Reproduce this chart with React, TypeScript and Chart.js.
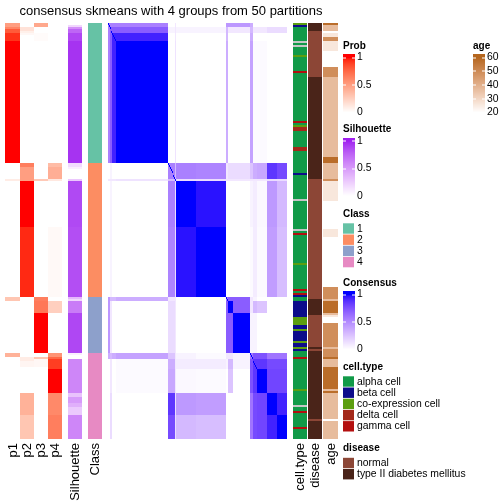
import React, { useEffect, useRef } from "react";
import { Chart, registerables } from "chart.js";

Chart.register(...registerables);

const TITLE = "consensus skmeans with 4 groups from 50 partitions";

// ---- sample groups, in row / column order of the consensus matrix ----
const groupSizes = [2, 3, 4, 61, 8, 1, 23, 35, 2, 6, 20, 3, 5, 12, 11, 12];
// consensus between groups (diagonal cells of the sample matrix are 1)
const consensusByGroup: number[][] = [
  [0.55, 0.55, 0.55, 0.55, 0, 0.1, 0, 0, 0.45, 0.45, 0.45, 0.35, 0, 0, 0, 0],
  [0.55, 0.7, 0.7, 0.7, 0.05, 0.1, 0.05, 0.05, 0.3, 0.1, 0.1, 0.3, 0.1, 0.1, 0.15, 0.15],
  [0.55, 0.7, 0.93, 0.93, 0, 0.1, 0, 0, 0.3, 0, 0, 0.35, 0, 0, 0, 0],
  [0.55, 0.7, 0.93, 1, 0, 0.12, 0, 0, 0.35, 0, 0, 0.4, 0.02, 0.02, 0, 0],
  [0, 0.05, 0, 0, 0.55, 0.3, 0.55, 0.53, 0.1, 0.15, 0.15, 0.25, 0.35, 0.38, 0.86, 0.78],
  [0.1, 0.1, 0.1, 0.12, 0.3, 1, 0.15, 0.15, 0.1, 0.1, 0.1, 0.1, 0.1, 0.1, 0.15, 0.15],
  [0, 0.05, 0, 0, 0.55, 0.15, 1, 0.97, 0, 0, 0, 0.05, 0.08, 0.03, 0.44, 0.3],
  [0, 0.05, 0, 0, 0.53, 0.15, 0.97, 1, 0, 0, 0, 0.02, 0.08, 0.02, 0.42, 0.28],
  [0.45, 0.3, 0.3, 0.35, 0.1, 0.1, 0, 0, 0.6, 0.7, 0.7, 0.1, 0.05, 0, 0, 0],
  [0.45, 0.1, 0, 0, 0.15, 0.1, 0, 0, 0.7, 1, 0.7, 0.1, 0.3, 0.25, 0, 0],
  [0.45, 0.1, 0, 0, 0.15, 0.1, 0, 0, 0.7, 0.7, 1, 0.05, 0.05, 0, 0, 0],
  [0.35, 0.3, 0.35, 0.4, 0.25, 0.1, 0.05, 0.02, 0.1, 0.1, 0.05, 0.6, 0.75, 0.75, 0.6, 0.6],
  [0, 0.1, 0, 0.02, 0.35, 0.1, 0.08, 0.08, 0.05, 0.3, 0.05, 0.75, 0.86, 0.86, 0.78, 0.78],
  [0, 0.1, 0, 0.02, 0.38, 0.1, 0.03, 0.02, 0, 0.25, 0, 0.75, 0.86, 1, 0.8, 0.8],
  [0, 0.15, 0, 0, 0.86, 0.15, 0.44, 0.42, 0, 0, 0, 0.6, 0.78, 0.8, 1, 0.93],
  [0, 0.15, 0, 0, 0.78, 0.15, 0.3, 0.28, 0, 0, 0, 0.6, 0.78, 0.8, 0.93, 1],
];

// ---- per-sample annotations as [value, run length] ----
const classRuns: [number, number][] = [[1, 70], [2, 67], [3, 28], [4, 43]];
const p1Runs: [number, number][] = [[0.5, 2], [0.62, 1], [0.8, 2], [0.93, 4], [1, 61], [0, 8], [0.1, 1], [0, 58], [0.3, 2], [0, 26], [0.4, 2], [0, 41]];
const p2Runs: [number, number][] = [[0, 2], [0.15, 2], [0.08, 1], [0.04, 1], [0, 64], [0.65, 2], [0.5, 7], [1, 23], [0.95, 35], [0, 30], [0.1, 2], [0.05, 3], [0, 13], [0.4, 11], [0.3, 12]];
const p3Runs: [number, number][] = [[0.45, 2], [0, 3], [0.02, 4], [0, 69], [0.28, 1], [0, 58], [0.65, 2], [0.68, 6], [1, 20], [0, 2], [0.3, 1], [0.04, 4], [0, 36]];
const p4Runs: [number, number][] = [[0, 70], [0.35, 2], [0.42, 6], [0.12, 1], [0, 23], [0.03, 35], [0, 2], [0.25, 6], [0, 20], [0.55, 2], [0.75, 1], [0.9, 5], [1, 12], [0.6, 11], [0.65, 12]];
const silhouetteRuns: [number, number][] = [[0, 1], [0.2, 1], [0.55, 1], [0.75, 2], [0.88, 4], [0.95, 61], [0.18, 2], [0.08, 1], [0, 5], [0.28, 1], [0.87, 23], [0.85, 35], [0.35, 1], [0.2, 1], [0.65, 6], [0.88, 20], [0.08, 1], [0, 2], [0.6, 17], [0.3, 2], [0.5, 3], [0.4, 2], [0.27, 4], [0.6, 12]];
// index into CELL_TYPES, -1 = NA
const cellTypeRuns: [number, number][] = [[2, 1], [1, 1], [0, 7], [-1, 1], [0, 1], [-1, 1], [0, 4], [2, 1], [0, 7], [4, 1], [0, 24], [4, 1], [0, 1], [2, 1], [3, 2], [0, 8], [3, 2], [0, 11], [1, 1], [0, 12], [-1, 1], [0, 14], [-1, 1], [0, 1], [4, 1], [0, 14], [2, 1], [0, 12], [4, 1], [0, 1], [4, 1], [1, 1], [0, 2], [1, 8], [2, 4], [1, 2], [2, 1], [1, 5], [2, 1], [1, 2], [2, 1], [1, 1], [0, 3], [4, 1], [0, 15], [2, 1], [0, 7], [-1, 1], [0, 2], [4, 1], [0, 7], [4, 1], [0, 5]];
// index into DISEASES
const diseaseRuns: [number, number][] = [[1, 4], [0, 23], [1, 51], [0, 60], [1, 8], [0, 16], [1, 1], [0, 1], [1, 34], [0, 1], [1, 9]];
const ageRuns: [number | null, number][] = [[58, 1], [37, 3], [null, 1], [26, 2], [49, 2], [26, 5], [null, 8], [49, 5], [37, 40], [58, 3], [37, 8], [49, 1], [26, 10], [null, 14], [26, 4], [null, 25], [49, 6], [37, 1], [58, 6], [37, 1], [26, 1], [null, 3], [49, 12], [37, 1], [49, 4], [58, 1], [37, 4], [58, 11], [37, 1], [58, 1], [37, 13], [null, 1], [37, 9]];

const CLASS_LABELS = ["1", "2", "3", "4"];
const CELL_TYPES = ["alpha cell", "beta cell", "co-expression cell", "delta cell", "gamma cell"];
const DISEASES = ["normal", "type II diabetes mellitus"];
const UNIT_TICKS = [1, 0.5, 0];
const UNIT_TICK_LABELS = ["1", "0.5", "0"];
const AGE_TICKS = [60, 50, 40, 30, 20];

// ---- styles ----
const CLASS_COLORS = ["#66C2A5", "#FC8D62", "#8DA0CB", "#E78AC3"];
const CELL_COLORS = ["#119A48", "#0C0C8A", "#5C9E10", "#A3291A", "#B30F0F"];
const NA_COLOR = "#C6C6C6";
const DISEASE_COLORS = ["#8C4636", "#4A2419"];
const FONT = '"Liberation Sans", Arial, Helvetica, sans-serif';

// column spans (page pixels == x-scale units)
const SPAN = {
  p1: [5, 20], p2: [20, 34], p3: [34, 48], p4: [48, 62],
  sil: [68, 82], cls: [88, 102], mat: [108, 287],
  cellType: [293, 307], disease: [308, 322], age: [323, 338],
};

// ---- LAB colour ramps (like colorRamp2) ----
function hexToRgb(h: string) {
  const n = parseInt(h.slice(1), 16);
  return [(n >> 16) & 255, (n >> 8) & 255, n & 255];
}
function toLin(c: number) { c /= 255; return c <= 0.04045 ? c / 12.92 : Math.pow((c + 0.055) / 1.055, 2.4); }
function fromLin(c: number) {
  const v = c <= 0.0031308 ? 12.92 * c : 1.055 * Math.pow(c, 1 / 2.4) - 0.055;
  return Math.round(Math.max(0, Math.min(1, v)) * 255);
}
const XN = 0.95047, YN = 1, ZN = 1.08883;
function f(t: number) { return t > 0.008856 ? Math.cbrt(t) : 7.787 * t + 16 / 116; }
function finv(t: number) { const t3 = t * t * t; return t3 > 0.008856 ? t3 : (t - 16 / 116) / 7.787; }
function rgbToLab(rgb: number[]) {
  const [r, g, b] = rgb.map(toLin);
  const X = (0.4124 * r + 0.3576 * g + 0.1805 * b) / XN;
  const Y = (0.2126 * r + 0.7152 * g + 0.0722 * b) / YN;
  const Z = (0.0193 * r + 0.1192 * g + 0.9505 * b) / ZN;
  return [116 * f(Y) - 16, 500 * (f(X) - f(Y)), 200 * (f(Y) - f(Z))];
}
function labToHex(lab: number[]) {
  const fy = (lab[0] + 16) / 116, fx = fy + lab[1] / 500, fz = fy - lab[2] / 200;
  const X = finv(fx) * XN, Y = finv(fy) * YN, Z = finv(fz) * ZN;
  const r = 3.2406 * X - 1.5372 * Y - 0.4986 * Z;
  const g = -0.9689 * X + 1.8758 * Y + 0.0415 * Z;
  const b = 0.0557 * X - 0.204 * Y + 1.057 * Z;
  return "rgb(" + fromLin(r) + "," + fromLin(g) + "," + fromLin(b) + ")";
}
function makeRamp(lo: number, hi: number, c0: string, c1: string) {
  const a = rgbToLab(hexToRgb(c0)), b = rgbToLab(hexToRgb(c1));
  return (v: number) => {
    const t = Math.max(0, Math.min(1, (v - lo) / (hi - lo)));
    return labToHex([0, 1, 2].map((k) => a[k] + (b[k] - a[k]) * t));
  };
}
const probRamp = makeRamp(0, 1, "#FFFFFF", "#FF0000");
const silRamp = makeRamp(0, 1, "#FFFFFF", "#A020F0");
const consRamp = makeRamp(0, 1, "#FFFFFF", "#0000FF");
const ageRamp = makeRamp(20, 60, "#FFFFFF", "#B5661E");

function expand<T>(runs: [T, number][]): T[] {
  const out: T[] = [];
  runs.forEach(([v, n]) => { for (let i = 0; i < n; i++) out.push(v); });
  return out;
}

function buildDatasets() {
  const rowGroup = expand(groupSizes.map((n, g) => [g, n] as [number, number]));
  const N = rowGroup.length;
  const base = {
    barPercentage: 1, categoryPercentage: 1, grouped: false,
    borderWidth: 0, inflateAmount: 0, borderSkipped: false,
  };
  const datasets: any[] = [];
  const annot = (span: number[], colors: (string | null)[]) => {
    datasets.push({
      ...base,
      data: colors.map((c) => (c ? [span[0], span[1]] : null)),
      backgroundColor: colors.map((c) => c || "rgba(0,0,0,0)"),
    });
  };
  annot(SPAN.p1, expand(p1Runs).map((v) => (v > 0 ? probRamp(v) : null)));
  annot(SPAN.p2, expand(p2Runs).map((v) => (v > 0 ? probRamp(v) : null)));
  annot(SPAN.p3, expand(p3Runs).map((v) => (v > 0 ? probRamp(v) : null)));
  annot(SPAN.p4, expand(p4Runs).map((v) => (v > 0 ? probRamp(v) : null)));
  annot(SPAN.sil, expand(silhouetteRuns).map((v) => (v > 0 ? silRamp(v) : null)));
  annot(SPAN.cls, expand(classRuns).map((c) => CLASS_COLORS[c - 1]));
  annot(SPAN.cellType, expand(cellTypeRuns).map((c) => (c < 0 ? NA_COLOR : CELL_COLORS[c])));
  annot(SPAN.disease, expand(diseaseRuns).map((d) => DISEASE_COLORS[d]));
  annot(SPAN.age, expand(ageRuns).map((a) => (a === null ? null : ageRamp(a))));

  // consensus matrix: merge equal neighbouring cells of each row into one floating bar
  const [m0, m1] = SPAN.mat;
  const colX = (j: number) => Math.round(m0 + (j * (m1 - m0)) / N);
  const rowRuns: { x0: number; x1: number; c: string }[][] = [];
  let maxRuns = 0;
  for (let i = 0; i < N; i++) {
    const runs: { x0: number; x1: number; c: string }[] = [];
    let start = 0;
    let cur = -1;
    for (let j = 0; j <= N; j++) {
      const v = j === N ? -2 : i === j ? 1 : consensusByGroup[rowGroup[i]][rowGroup[j]];
      if (v !== cur) {
        if (cur > 0 && j > start) {
          const x0 = colX(start), x1 = colX(j);
          if (x1 > x0) runs.push({ x0, x1, c: consRamp(cur) });
        }
        cur = v;
        start = j;
      }
    }
    rowRuns.push(runs);
    maxRuns = Math.max(maxRuns, runs.length);
  }
  for (let k = 0; k < maxRuns; k++) {
    datasets.push({
      ...base,
      data: rowRuns.map((r) => (r[k] ? [r[k].x0, r[k].x1] : null)),
      backgroundColor: rowRuns.map((r) => (r[k] ? r[k].c : "rgba(0,0,0,0)")),
    });
  }
  return { labels: rowGroup.map((_, i) => "s" + (i + 1)), datasets };
}

function colorBar(ctx: CanvasRenderingContext2D, x: number, T: number, title: string,
  ramp: (v: number) => string, lo: number, hi: number, ticks: number[], labels: string[]) {
  ctx.fillStyle = "#000";
  ctx.font = "bold 10px " + FONT;
  ctx.textAlign = "left";
  ctx.textBaseline = "middle";
  ctx.fillText(title, x, T);
  const yTop = T + 8.5, yHi = T + 11.5, yLo = T + 66.5;
  for (let y = Math.floor(yTop); y < yLo; y++) {
    const t = (yLo - (y + 0.5)) / (yLo - yHi);
    ctx.fillStyle = ramp(lo + Math.max(0, Math.min(1, t)) * (hi - lo));
    ctx.fillRect(x, y, 12, 1);
  }
  ctx.font = "10.4px " + FONT;
  ticks.forEach((v, i) => {
    const y = yLo - ((v - lo) / (hi - lo)) * (yLo - yHi);
    ctx.fillStyle = "#FFFFFF";
    ctx.fillRect(x, Math.round(y) - 0.5, 3, 1);
    ctx.fillRect(x + 9, Math.round(y) - 0.5, 3, 1);
    ctx.fillStyle = "#000";
    ctx.fillText(labels[i], x + 14, y);
  });
}

function discreteLegend(ctx: CanvasRenderingContext2D, x: number, T: number, title: string,
  labels: string[], colors: string[]) {
  ctx.fillStyle = "#000";
  ctx.font = "bold 10px " + FONT;
  ctx.textAlign = "left";
  ctx.textBaseline = "middle";
  ctx.fillText(title, x, T);
  ctx.font = "10.4px " + FONT;
  labels.forEach((lab, i) => {
    const y = T + 9.3 + i * 11.2;
    ctx.fillStyle = colors[i];
    ctx.fillRect(x, y, 11, 10.4);
    ctx.fillStyle = "#000";
    ctx.fillText(lab, x + 14, y + 5.4);
  });
}

const textPlugin = {
  id: "heatmapText",
  afterDraw(chart: any) {
    const ctx: CanvasRenderingContext2D = chart.ctx;
    ctx.save();
    ctx.fillStyle = "#000";
    ctx.font = "13px " + FONT;
    ctx.textAlign = "center";
    ctx.textBaseline = "middle";
    ctx.fillText(TITLE, 171, 11);

    const colLabels: [string, number[]][] = [
      ["p1", SPAN.p1], ["p2", SPAN.p2], ["p3", SPAN.p3], ["p4", SPAN.p4],
      ["Silhouette", SPAN.sil], ["Class", SPAN.cls],
      ["cell.type", SPAN.cellType], ["disease", SPAN.disease], ["age", SPAN.age],
    ];
    const bottom = chart.chartArea.bottom;
    colLabels.forEach(([t, s]) => {
      ctx.save();
      ctx.translate((s[0] + s[1]) / 2 + 0.5, bottom + 4);
      ctx.rotate(-Math.PI / 2);
      ctx.textAlign = "right";
      ctx.textBaseline = "middle";
      ctx.fillText(t, 0, 0);
      ctx.restore();
    });

    colorBar(ctx, 343, 46, "Prob", probRamp, 0, 1, UNIT_TICKS, UNIT_TICK_LABELS);
    colorBar(ctx, 343, 129.5, "Silhouette", silRamp, 0, 1, UNIT_TICKS, UNIT_TICK_LABELS);
    discreteLegend(ctx, 343, 214, "Class", CLASS_LABELS, CLASS_COLORS);
    colorBar(ctx, 343, 283, "Consensus", consRamp, 0, 1, UNIT_TICKS, UNIT_TICK_LABELS);
    discreteLegend(ctx, 343, 367, "cell.type", CELL_TYPES, CELL_COLORS);
    discreteLegend(ctx, 343, 448.5, "disease", DISEASES, DISEASE_COLORS);
    colorBar(ctx, 473, 46, "age", ageRamp, 20, 60, AGE_TICKS, AGE_TICKS.map(String));
    ctx.restore();
  },
};

export default function App() {
  const ref = useRef<HTMLCanvasElement>(null);
  useEffect(() => {
    const data = buildDatasets();
    const chart = new Chart(ref.current as HTMLCanvasElement, {
      type: "bar",
      data: data as any,
      options: {
        indexAxis: "y",
        animation: false,
        responsive: false,
        maintainAspectRatio: false,
        devicePixelRatio: 1,
        events: [],
        layout: { padding: { top: 23, bottom: 65, left: 0, right: 0 } },
        scales: {
          x: { type: "linear", min: 0, max: 504, display: false },
          y: { type: "category", display: false, offset: true },
        },
        plugins: { legend: { display: false }, tooltip: { enabled: false }, title: { display: false } },
      } as any,
      plugins: [textPlugin],
    });
    return () => chart.destroy();
  }, []);
  return (
    <div style={{ position: "absolute", left: 0, top: 0, width: 504, height: 504, background: "#fff" }}>
      <canvas ref={ref} width={504} height={504} style={{ display: "block", width: 504, height: 504 }} />
    </div>
  );
}
